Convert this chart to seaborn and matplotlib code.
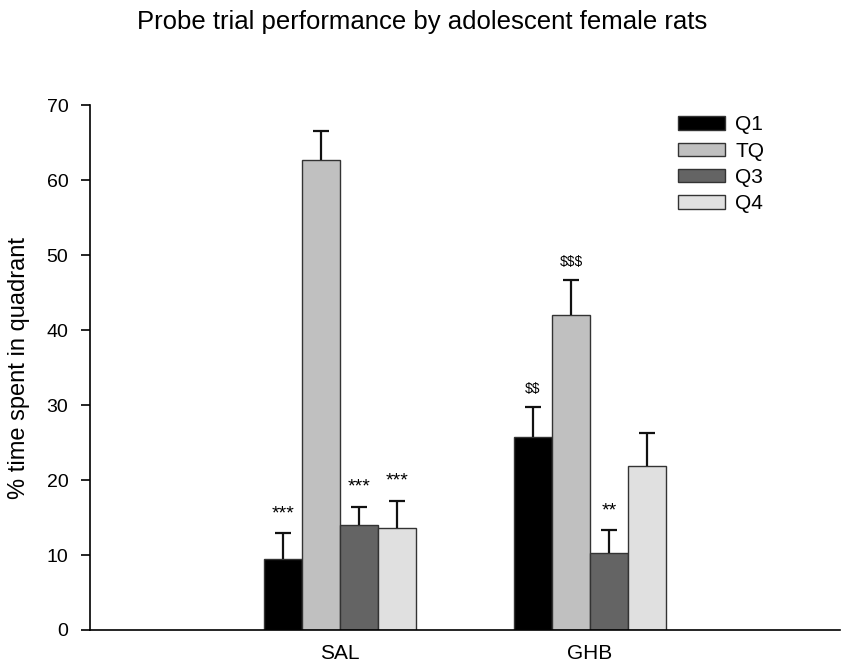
import pandas as pd
import matplotlib.pyplot as plt
import seaborn as sns

# values
groups = ['SAL', 'GHB']
quadrants = ['Q1', 'TQ', 'Q3', 'Q4']
q1_mean = [9.5, 25.7]
tq_mean = [62.7, 42.0]
q3_mean = [14.0, 10.3]
q4_mean = [13.6, 21.9]
q1_sem = [3.4, 4.0]
tq_sem = [3.8, 4.7]
q3_sem = [2.4, 3.0]
q4_sem = [3.6, 4.4]
q1_marks = ['***', '$$']
tq_marks = ['', '$$$']
q3_marks = ['***', '**']
q4_marks = ['***', '']

colors = {'Q1': '#000000', 'TQ': '#c0c0c0', 'Q3': '#646464', 'Q4': '#e0e0e0'}

means = [q1_mean, tq_mean, q3_mean, q4_mean]
sems = [q1_sem, tq_sem, q3_sem, q4_sem]
marks = [q1_marks, tq_marks, q3_marks, q4_marks]

rows = []
for q, m in zip(quadrants, means):
    for g, v in zip(groups, m):
        rows.append({'group': g, 'quadrant': q, 'value': v})
df = pd.DataFrame(rows)

sns.set_theme(style="ticks")
plt.rcParams['font.family'] = ['Liberation Sans', 'DejaVu Sans']
plt.rcParams['text.color'] = 'black'
plt.rcParams['axes.labelcolor'] = 'black'
plt.rcParams['xtick.color'] = 'black'
plt.rcParams['ytick.color'] = 'black'

fig = plt.figure(figsize=(8.45, 6.69), dpi=100)
ax = fig.add_axes([0.1065, 0.0583, 0.8875, 0.7847])

sns.barplot(data=df, x='group', y='value', hue='quadrant', order=groups,
            hue_order=quadrants, palette=colors, width=0.608, gap=0,
            edgecolor='#333333', linewidth=1.0, errorbar=None, ax=ax)

# one-sided error bars (cap only on top) and significance marks
bar_sets = list(ax.containers)
for i, cont in enumerate(bar_sets):
    for j, bar in enumerate(cont.patches):
        xc = bar.get_x() + bar.get_width() / 2
        h = bar.get_height()
        e = sems[i][j]
        ax.errorbar(xc, h, yerr=[[0], [e]], fmt='none', ecolor='#111111',
                    elinewidth=1.6, capsize=0, zorder=3)
        ax.plot(xc, h + e, marker='_', markersize=11.5, mew=1.6,
                color='#111111', zorder=3)
        txt = marks[i][j]
        if txt:
            fs = 14 if '*' in txt else 10
            ax.annotate(txt, (xc, h + e), xytext=(0, 8), textcoords='offset points',
                        ha='center', va='bottom', fontsize=fs, parse_math=False)

ax.set_xlim(-1, 2)
ax.set_ylim(0, 70)
ax.set_yticks(range(0, 71, 10))
ax.set_xlabel('')
ax.set_ylabel('% time spent in quadrant', fontsize=17, labelpad=12)
ax.tick_params(axis='y', labelsize=14, length=6.5, width=1.2, pad=9, direction='out')
ax.tick_params(axis='x', labelsize=15, length=0, pad=10)
sns.despine(ax=ax)
for s in ['left', 'bottom']:
    ax.spines[s].set_linewidth(1.2)
    ax.spines[s].set_color('black')

handles, labels = ax.get_legend_handles_labels()
ax.legend(handles, labels, frameon=False, loc='upper left',
          bbox_to_anchor=(0.759, 1.016), fontsize=15, handlelength=2.25,
          handleheight=0.62, labelspacing=0.35, handletextpad=0.5)

fig.suptitle('Probe trial performance by adolescent female rats', fontsize=18.5, y=0.985)

fig.savefig('out.png', dpi=100)
